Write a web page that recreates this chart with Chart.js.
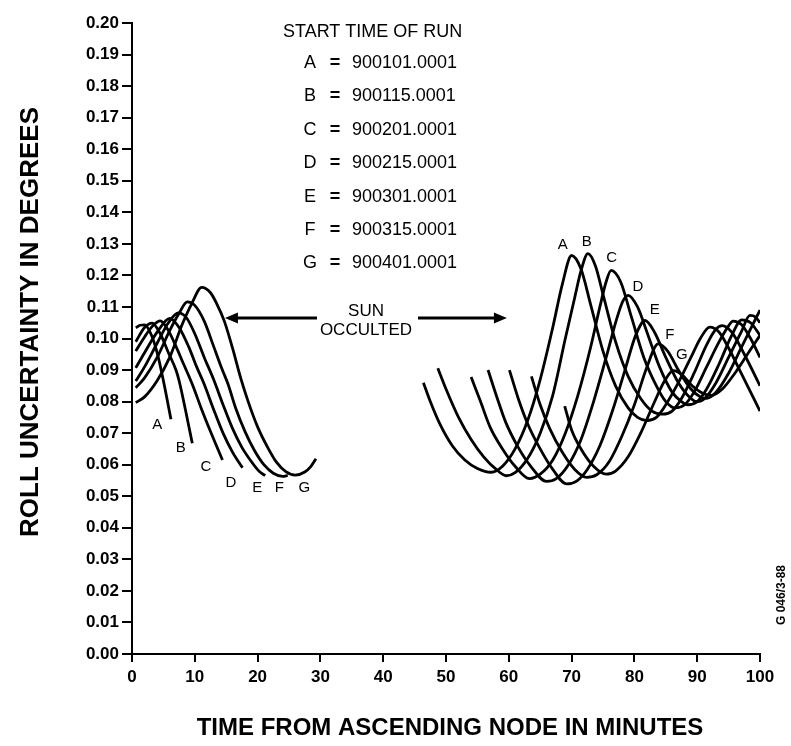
<!DOCTYPE html>
<html>
<head>
<meta charset="utf-8">
<script src="https://cdn.jsdelivr.net/npm/chart.js@4/dist/chart.umd.min.js"></script>
<style>
  html, body { margin: 0; padding: 0; background: #fff; }
  #wrap { width: 791px; height: 746px; }
</style>
</head>
<body>
<div id="wrap"><canvas id="c" width="791" height="746"></canvas></div>
<script>
// ---- runs and their start times ----
const runs = ['A', 'B', 'C', 'D', 'E', 'F', 'G'];
const startTimes = ['900101.0001', '900115.0001', '900201.0001', '900215.0001',
                    '900301.0001', '900315.0001', '900401.0001'];
const keyTitle = 'START TIME OF RUN';
const xTicks = [0, 10, 20, 30, 40, 50, 60, 70, 80, 90, 100];

// ---- roll uncertainty (deg) vs minutes from ascending node, before the sun is occulted ----
const timeA1 = [0.6, 1.3, 2.0, 3.0, 4.0, 5.0, 6.2];
const rollA1 = [0.1034, 0.1042, 0.1043, 0.1015, 0.0955, 0.0866, 0.0744];
const timeB1 = [0.6, 2.0, 3.2, 4.5, 5.8, 7.0, 7.5, 8.5, 9.6];
const rollB1 = [0.0990, 0.1035, 0.1049, 0.1015, 0.0955, 0.0900, 0.0866, 0.0775, 0.0668];
const timeC1 = [0.6, 2.0, 3.3, 4.5, 5.8, 7.0, 8.3, 9.6, 11.0, 12.5, 14.4];
const rollC1 = [0.0960, 0.1005, 0.1040, 0.1056, 0.1025, 0.0975, 0.0915, 0.0855, 0.0780, 0.0705, 0.0615];
const timeD1 = [0.6, 2.0, 4.0, 6.0, 7.5, 9.0, 10.3, 11.5, 13.0, 14.5, 16.0, 17.6];
const rollD1 = [0.0907, 0.0955, 0.1020, 0.1064, 0.1035, 0.0975, 0.0910, 0.0855, 0.0775, 0.0700, 0.0640, 0.0590];
const timeE1 = [0.6, 2.0, 4.0, 5.8, 7.4, 8.7, 10.0, 11.5, 13.0, 14.5, 16.0, 17.5, 19.0, 20.2, 21.2];
const rollE1 = [0.0865, 0.0910, 0.0985, 0.1050, 0.1081, 0.1065, 0.1015, 0.0940, 0.0870, 0.0790, 0.0715, 0.0655, 0.0610, 0.0580, 0.0565];
const timeF1 = [0.6, 2.0, 4.0, 6.0, 7.5, 8.8, 10.0, 11.5, 13.0, 14.3, 15.3, 16.5, 18.0, 19.5, 21.0, 22.5, 24.0, 24.8];
const rollF1 = [0.0844, 0.0875, 0.0940, 0.1025, 0.1080, 0.1116, 0.1105, 0.1055, 0.0975, 0.0905, 0.0855, 0.0780, 0.0705, 0.0645, 0.0600, 0.0573, 0.0563, 0.0566];
const timeG1 = [0.6, 2.0, 4.0, 6.0, 8.0, 9.5, 11.1, 12.5, 13.5, 14.7, 16.0, 17.3, 18.5, 20.0, 21.6, 23.0, 24.5, 26.0, 27.5, 28.5, 29.3];
const rollG1 = [0.0797, 0.0815, 0.0866, 0.0940, 0.1045, 0.1110, 0.1162, 0.1145, 0.1110, 0.1055, 0.0970, 0.0875, 0.0800, 0.0720, 0.0655, 0.0608, 0.0578, 0.0567, 0.0577, 0.0595, 0.0619];

// ---- after the sun reappears ----
const timeA2 = [46.4, 47.5, 49.0, 51.0, 53.0, 55.0, 57.2, 59.0, 61.0, 63.0, 65.0, 67.0, 68.5, 70.0, 71.5, 73.0, 75.0, 77.0, 79.0, 80.5, 82.0, 83.5, 85.0, 87.0, 89.0, 90.5, 92.0, 93.5, 95.0, 97.0, 99.0, 100.0];
const rollA2 = [0.0860, 0.0800, 0.0730, 0.0660, 0.0615, 0.0588, 0.0576, 0.0595, 0.0650, 0.0740, 0.0870, 0.1035, 0.1170, 0.1263, 0.1220, 0.1110, 0.0960, 0.0850, 0.0780, 0.0750, 0.0740, 0.0750, 0.0790, 0.0860, 0.0940, 0.1000, 0.1036, 0.1020, 0.0970, 0.0890, 0.0810, 0.0770];
const timeB2 = [48.7, 50.0, 52.0, 54.0, 56.0, 58.0, 59.6, 61.0, 63.0, 65.0, 67.0, 69.0, 70.5, 71.5, 72.6, 73.8, 75.0, 77.0, 79.0, 81.0, 82.8, 84.5, 86.0, 87.5, 89.5, 91.5, 93.0, 94.0, 95.5, 97.5, 100.0];
const rollB2 = [0.0906, 0.0840, 0.0750, 0.0680, 0.0625, 0.0585, 0.0565, 0.0575, 0.0620, 0.0700, 0.0820, 0.1000, 0.1130, 0.1215, 0.1269, 0.1230, 0.1140, 0.0990, 0.0880, 0.0810, 0.0770, 0.0760, 0.0770, 0.0810, 0.0890, 0.0980, 0.1030, 0.1041, 0.1020, 0.0950, 0.0850];
const timeC2 = [54.0, 55.5, 57.0, 59.0, 61.0, 63.3, 65.0, 67.0, 69.0, 71.0, 73.0, 74.5, 75.5, 76.3, 77.8, 79.5, 81.5, 83.5, 85.0, 86.5, 88.0, 89.5, 91.5, 93.5, 95.0, 95.7, 97.0, 98.5, 100.0];
const rollC2 = [0.0878, 0.0800, 0.0720, 0.0650, 0.0595, 0.0556, 0.0570, 0.0615, 0.0700, 0.0820, 0.0970, 0.1100, 0.1180, 0.1216, 0.1180, 0.1070, 0.0940, 0.0850, 0.0800, 0.0780, 0.0790, 0.0830, 0.0910, 0.0990, 0.1040, 0.1055, 0.1045, 0.1000, 0.0940];
const timeD2 = [56.7, 58.0, 59.5, 61.5, 63.5, 66.0, 67.5, 69.5, 71.5, 73.5, 75.5, 77.3, 78.2, 79.0, 80.5, 82.0, 84.0, 86.0, 87.5, 88.5, 90.0, 91.5, 93.5, 95.5, 97.1, 98.5, 100.0];
const rollD2 = [0.0900, 0.0820, 0.0735, 0.0655, 0.0595, 0.0547, 0.0555, 0.0600, 0.0680, 0.0800, 0.0940, 0.1070, 0.1120, 0.1137, 0.1100, 0.1020, 0.0910, 0.0830, 0.0800, 0.0790, 0.0800, 0.0840, 0.0920, 0.1010, 0.1059, 0.1050, 0.1010];
const timeE2 = [60.1, 61.5, 63.0, 65.0, 67.0, 69.2, 70.8, 72.5, 74.5, 76.5, 78.5, 80.2, 81.7, 83.2, 85.0, 87.0, 89.0, 90.0, 91.2, 93.0, 95.0, 97.0, 98.4, 99.3, 100.0];
const rollE2 = [0.0900, 0.0810, 0.0730, 0.0650, 0.0585, 0.0539, 0.0548, 0.0585, 0.0660, 0.0770, 0.0900, 0.1010, 0.1057, 0.1020, 0.0940, 0.0860, 0.0810, 0.0800, 0.0810, 0.0860, 0.0940, 0.1020, 0.1073, 0.1068, 0.1050];
const timeF2 = [63.6, 65.0, 66.5, 68.5, 70.5, 72.4, 74.0, 76.0, 78.0, 80.0, 82.0, 83.8, 85.3, 87.0, 89.0, 90.5, 91.5, 93.0, 95.0, 97.0, 99.0, 100.0];
const rollF2 = [0.0880, 0.0790, 0.0715, 0.0640, 0.0585, 0.0560, 0.0568, 0.0610, 0.0690, 0.0790, 0.0910, 0.0983, 0.0960, 0.0900, 0.0840, 0.0815, 0.0810, 0.0830, 0.0890, 0.0970, 0.1050, 0.1090];
const timeG2 = [68.9, 70.0, 71.5, 73.5, 75.5, 77.0, 79.0, 81.0, 83.0, 84.8, 86.2, 87.6, 89.2, 91.0, 92.3, 94.0, 96.0, 98.0, 100.0];
const rollG2 = [0.0786, 0.0710, 0.0650, 0.0595, 0.0570, 0.0580, 0.0625, 0.0700, 0.0790, 0.0865, 0.0898, 0.0885, 0.0850, 0.0825, 0.0820, 0.0840, 0.0890, 0.0950, 0.1010];

// sun-occulted interval arrow (minutes) and the value it sits at
const occultFrom = 14.8, occultTo = 59.7, occultLevel = 0.1065;

const FONT = '"Liberation Sans", Arial, Helvetica, sans-serif';

const before = [[timeA1, rollA1], [timeB1, rollB1], [timeC1, rollC1], [timeD1, rollD1],
                [timeE1, rollE1], [timeF1, rollF1], [timeG1, rollG1]];
const after  = [[timeA2, rollA2], [timeB2, rollB2], [timeC2, rollC2], [timeD2, rollD2],
                [timeE2, rollE2], [timeF2, rollF2], [timeG2, rollG2]];

const toPoints = ([t, u]) => t.map((tt, i) => ({ x: tt, y: u[i] }));

const datasets = [];
runs.forEach((r, i) => {
  datasets.push({ label: r + ' early', data: toPoints(before[i]) });
  datasets.push({ label: r + ' late', data: toPoints(after[i]) });
});

// index of the first local maximum of a series
function firstPeak(u) {
  for (let k = 1; k < u.length - 1; k++) {
    if (u[k] >= u[k - 1] && u[k] > u[k + 1]) return k;
  }
  return u.indexOf(Math.max(...u));
}

// run letters: offsets (px) from end of early branch and from first peak of late branch
const tagEarlyNudge = [[-13.6, 5.7], [-11.5, 5.1], [-16.6, 6.7], [-11.7, 15.4], [-8, 12.3], [-8.5, 12.6], [-11.7, 29.3]];
const tagLateNudge  = [[-8.9, -10.5], [-1.2, -11.6], [0.6, -12.4], [9.7, -8.3], [9.7, -10.5], [11.6, -8.9], [8.5, -15.7]];

const notes = {
  id: 'notes',
  beforeDraw(chart) {
    const c = chart.ctx;
    c.save();
    c.fillStyle = '#fff';
    c.fillRect(0, 0, chart.width, chart.height);
    c.restore();
  },
  afterDraw(chart) {
    const { ctx, scales: { x, y } } = chart;
    ctx.save();
    ctx.fillStyle = '#000';
    ctx.strokeStyle = '#000';
    ctx.textBaseline = 'middle';

    // key of run start times
    ctx.font = `18px ${FONT}`;
    ctx.textAlign = 'left';
    ctx.fillText(keyTitle, 283, 32);
    runs.forEach((r, i) => {
      const yy = 63 + i * 33.4;
      ctx.font = `18px ${FONT}`;
      ctx.textAlign = 'center';
      ctx.fillText(r, 310, yy);
      ctx.font = `bold 18px ${FONT}`;
      ctx.fillText('=', 335, yy);
      ctx.font = `18px ${FONT}`;
      ctx.textAlign = 'left';
      ctx.fillText(startTimes[i], 352, yy);
    });

    // run letters on the curves
    ctx.font = `15px ${FONT}`;
    ctx.textAlign = 'center';
    runs.forEach((r, i) => {
      const [te, ue] = before[i];
      const n = te.length - 1;
      ctx.fillText(r, x.getPixelForValue(te[n]) + tagEarlyNudge[i][0], y.getPixelForValue(ue[n]) + tagEarlyNudge[i][1]);
      const [tl, ul] = after[i];
      const k = firstPeak(ul);
      ctx.fillText(r, x.getPixelForValue(tl[k]) + tagLateNudge[i][0], y.getPixelForValue(ul[k]) + tagLateNudge[i][1]);
    });

    // sun occulted arrow
    const ay = y.getPixelForValue(occultLevel);
    const x0 = x.getPixelForValue(occultFrom), x1 = x.getPixelForValue(occultTo);
    const head = 13, half = 5.5;
    ctx.lineWidth = 3;
    ctx.beginPath();
    ctx.moveTo(x0 + head - 1, ay); ctx.lineTo(317, ay);
    ctx.moveTo(418, ay); ctx.lineTo(x1 - head + 1, ay);
    ctx.stroke();
    ctx.beginPath();
    ctx.moveTo(x0, ay); ctx.lineTo(x0 + head, ay - half); ctx.lineTo(x0 + head, ay + half); ctx.closePath();
    ctx.moveTo(x1, ay); ctx.lineTo(x1 - head, ay - half); ctx.lineTo(x1 - head, ay + half); ctx.closePath();
    ctx.fill();
    ctx.font = `17px ${FONT}`;
    ctx.textAlign = 'center';
    ctx.fillText('SUN', 366, 311);
    ctx.fillText('OCCULTED', 366, 330);

    // axis titles
    ctx.font = `bold 24px ${FONT}`;
    ctx.fillText('TIME FROM ASCENDING NODE IN MINUTES', 450, 728);
    ctx.save();
    ctx.translate(31, 322);
    ctx.rotate(-Math.PI / 2);
    ctx.font = `bold 26px ${FONT}`;
    ctx.fillText('ROLL UNCERTAINTY IN DEGREES', 0, 0);
    ctx.restore();

    // figure code
    ctx.save();
    ctx.translate(782, 595);
    ctx.rotate(-Math.PI / 2);
    ctx.font = `bold 12px ${FONT}`;
    ctx.fillText('G 046/3-88', 0, 0);
    ctx.restore();

    ctx.restore();
  }
};

new Chart(document.getElementById('c'), {
  type: 'line',
  data: { datasets },
  plugins: [notes],
  options: {
    responsive: false,
    animation: false,
    devicePixelRatio: 1,
    layout: { padding: { top: 23, right: 31, bottom: 0, left: 0 } },
    plugins: { legend: { display: false }, tooltip: { enabled: false } },
    elements: {
      point: { radius: 0 },
      line: { borderWidth: 2.8, borderColor: '#000', fill: false, cubicInterpolationMode: 'monotone' }
    },
    scales: {
      x: {
        type: 'linear', min: 0, max: 100,
        afterFit(s) { s.height = 92; },
        afterBuildTicks(s) { s.ticks = xTicks.map(v => ({ value: v })); },
        ticks: { autoSkip: false, maxRotation: 0, color: '#000', padding: 5,
                 font: { family: FONT, size: 17, weight: 'bold' } },
        grid: { drawOnChartArea: false, drawTicks: true, tickLength: 8, color: '#000', lineWidth: 2 },
        border: { display: true, color: '#000', width: 2 }
      },
      y: {
        min: 0, max: 0.2,
        afterFit(s) { s.width = 132; },
        ticks: { stepSize: 0.01, autoSkip: false, color: '#000', padding: 3,
                 callback: v => Number(v).toFixed(2),
                 font: { family: FONT, size: 17, weight: 'bold' } },
        grid: { drawOnChartArea: false, drawTicks: true, tickLength: 10, color: '#000', lineWidth: 2 },
        border: { display: true, color: '#000', width: 2 }
      }
    }
  }
});
</script>
</body>
</html>
